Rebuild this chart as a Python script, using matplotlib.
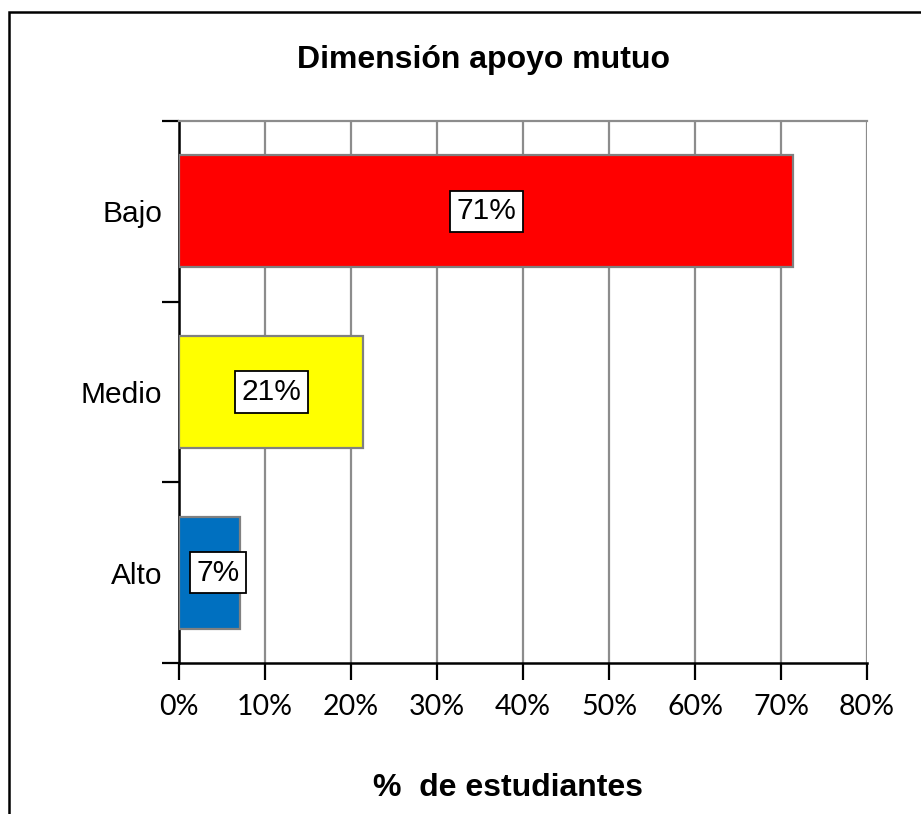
import matplotlib.pyplot as plt
import matplotlib.patches as mpatches
import numpy as np

categorias = ["Alto", "Medio", "Bajo"]
porcentajes = [7.1, 21.4, 71.4]
etiquetas = ["7%", "21%", "71%"]
colores = ["#0070C0", "#FFFF00", "#FF0000"]
xticks = [0, 10, 20, 30, 40, 50, 60, 70, 80]

fig = plt.figure(figsize=(9.21, 8.14), dpi=100)
ax = fig.add_axes([179 / 921, 151 / 814, 688 / 921, 542 / 814])

# borde exterior del grafico (estilo Excel)
fig.patches.append(mpatches.Rectangle((8.5 / 921, -0.1), 1.2, (814 - 12.5) / 814 + 0.1,
                                      transform=fig.transFigure, fill=False,
                                      edgecolor="black", linewidth=1.8))

y = np.arange(len(categorias))
ax.barh(y, porcentajes, height=0.62, color=colores,
        edgecolor="#808080", linewidth=1.6, zorder=3)

for yi, v, lab in zip(y, porcentajes, etiquetas):
    ax.text(max(v / 2, 4.5), yi, lab, ha="center", va="center", fontsize=21.5,
            family="Liberation Sans", zorder=4,
            bbox=dict(boxstyle="square,pad=0.22", facecolor="white",
                      edgecolor="black", linewidth=1.3))

ax.set_xlim(0, 80)
ax.set_ylim(-0.5, 2.5)
ax.set_xticks(xticks)
ax.set_xticklabels([f"{t}%" for t in xticks], family="Lato", fontsize=20.5)
ax.xaxis.grid(True, color="#8c8c8c", linewidth=1.6, zorder=0)

ax.set_yticks([-0.5, 0.5, 1.5, 2.5])
ax.set_yticklabels([])
ax.set_yticks(y, minor=True)
ax.set_yticklabels(categorias, minor=True, family="Liberation Sans", fontsize=21.5)
ax.tick_params(axis="y", which="minor", length=0, pad=12)
ax.tick_params(axis="y", which="major", length=12, width=1.6, direction="out")
ax.tick_params(axis="x", length=12, width=1.6, direction="out", pad=10)

ax.spines["left"].set_linewidth(1.8)
ax.spines["bottom"].set_linewidth(1.8)
ax.spines["top"].set_color("#8c8c8c")
ax.spines["top"].set_linewidth(1.6)
ax.spines["right"].set_visible(False)

fig.text(483 / 921, 1 - 60 / 814, "Dimensión apoyo mutuo", ha="center", va="center",
         fontsize=23, fontweight="bold", family="Liberation Sans")
fig.text(508 / 921, 1 - 788 / 814, "%  de estudiantes", ha="center", va="center",
         fontsize=23, fontweight="bold", family="Liberation Sans")

fig.savefig("out.png", dpi=100, facecolor="white")
